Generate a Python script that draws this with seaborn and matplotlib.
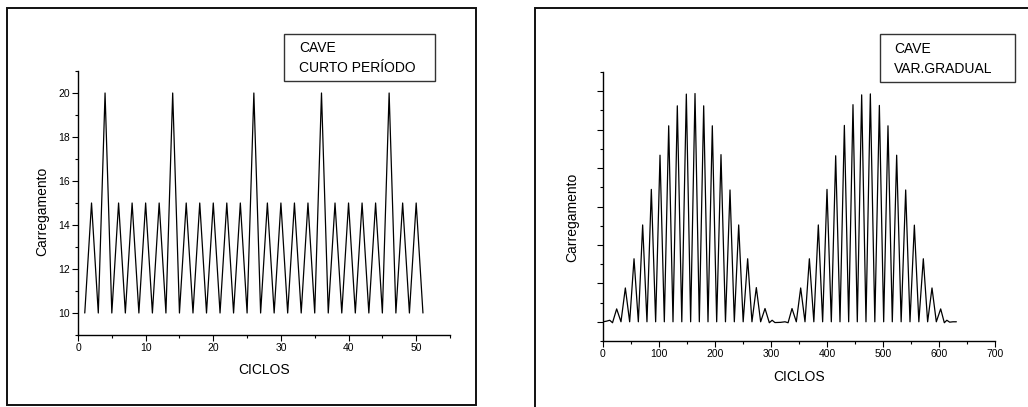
import matplotlib
matplotlib.use("Agg")
import matplotlib.pyplot as plt
from matplotlib.patches import Rectangle
from matplotlib.ticker import MultipleLocator, NullFormatter
import seaborn as sns

# ---- Data -------------------------------------------------------------
# Short-period block loading: load level per cycle
short_cycles = list(range(1, 52))
short_loads = [10, 15, 10, 20, 10, 15, 10, 15, 10, 15, 10, 15, 10, 20, 10,
               15, 10, 15, 10, 15, 10, 15, 10, 15, 10, 20, 10, 15, 10, 15,
               10, 15, 10, 15, 10, 20, 10, 15, 10, 15, 10, 15, 10, 15, 10,
               20, 10, 15, 10, 15, 10]

# Gradual-variation loading: turning points (peaks and valleys) per cycle
gradual_cycles = [0, 6, 12, 17, 24.4, 32.1, 39.9, 47.6, 55.4, 63.1, 70.8,
                  78.5, 86.3, 94.0, 101.8, 109.5, 117.3, 125.0, 132.7, 140.7,
                  148.8, 156.5, 164.3, 172.0, 179.8, 187.5, 195.2, 203.0,
                  210.7, 218.7, 226.8, 234.5, 242.3, 250.3, 258.3, 266.0,
                  273.8, 281.5, 289.3, 297.0, 302.0, 307.0, 317.0, 325.0,
                  330.5, 337.5, 345.2, 353.0, 360.7, 368.5, 376.5, 384.5,
                  392.2, 400.0, 407.7, 415.5, 423.2, 431.0, 438.7, 446.4,
                  454.1, 461.9, 469.6, 477.4, 485.4, 493.5, 501.2, 508.9,
                  516.6, 524.4, 532.4, 540.5, 548.2, 556.0, 564.0, 572.0,
                  579.7, 587.5, 595.2, 603.0, 609.5, 614.0, 619.0, 625.0,
                  631.0]
gradual_loads = [0.0, 0.03, 0.08, -0.05, 0.67, 0.0, 1.76, 0.0, 3.28, 0.0,
                 5.04, 0.0, 6.89, 0.0, 8.67, 0.0, 10.2, 0.0, 11.24, 0.0,
                 11.85, 0.0, 11.88, 0.0, 11.24, 0.0, 10.2, 0.0, 8.7, 0.0,
                 6.86, 0.0, 5.04, 0.0, 3.28, 0.0, 1.78, 0.0, 0.69, -0.05,
                 0.08, -0.04, -0.03, 0.0, -0.05, 0.69, 0.0, 1.76, 0.0, 3.28,
                 0.0, 5.04, 0.0, 6.89, 0.0, 8.64, 0.0, 10.22, 0.0, 11.3, 0.0,
                 11.81, 0.0, 11.86, 0.0, 11.26, 0.0, 10.2, 0.0, 8.67, 0.0,
                 6.86, 0.0, 5.03, 0.0, 3.28, 0.0, 1.76, 0.0, 0.67, -0.05,
                 0.08, -0.02, 0.0, 0.0]

left_legend = ["CAVE", "CURTO PERÍODO"]
right_legend = ["CAVE", "VAR.GRADUAL"]
x_label = "CICLOS"
y_label = "Carregamento"

# ---- Style ------------------------------------------------------------
sns.set_theme(style="ticks")
plt.rcParams["font.family"] = ["Liberation Sans", "DejaVu Sans"]
plt.rcParams["axes.edgecolor"] = "black"
plt.rcParams["xtick.color"] = "black"
plt.rcParams["ytick.color"] = "black"
plt.rcParams["text.color"] = "black"
plt.rcParams["axes.labelcolor"] = "black"

W, H = 1028, 407
fig = plt.figure(figsize=(W / 100, H / 100), dpi=100)
fig.patch.set_facecolor("white")


def rect(l, t, r, b):
    return [l / W, 1 - b / H, (r - l) / W, (b - t) / H]


def frame(l, t, r, b, lw, color):
    fig.add_artist(Rectangle((l / W, 1 - b / H), (r - l) / W, (b - t) / H,
                             transform=fig.transFigure, fill=False,
                             lw=lw, edgecolor=color))


def style_axes(ax):
    sns.despine(ax=ax)
    for side in ("left", "bottom"):
        ax.spines[side].set_linewidth(1.0)
        ax.spines[side].set_color("black")
    ax.tick_params(which="major", direction="out", length=4, width=0.8,
                   labelsize=7.5, pad=2)
    ax.tick_params(which="minor", direction="out", length=2.2, width=0.8)
    ax.set_facecolor("white")


# Outer panel frames
frame(7, 8, 476, 405, 1.4, "#111111")
frame(535, 8, 1032, 410, 1.4, "#111111")

# ---- Left panel: short period ----------------------------------------
axL = fig.add_axes(rect(78, 71, 450, 335))
sns.lineplot(x=short_cycles, y=short_loads, ax=axL, color="black",
             lw=0.9, sort=False, estimator=None)
axL.set_xlim(0, 55)
axL.set_ylim(9, 21)
axL.xaxis.set_major_locator(MultipleLocator(10))
axL.xaxis.set_minor_locator(MultipleLocator(5))
axL.yaxis.set_major_locator(MultipleLocator(2))
axL.yaxis.set_minor_locator(MultipleLocator(1))
style_axes(axL)
axL.set_xlabel(x_label, fontsize=10)
axL.set_ylabel(y_label, fontsize=10)
axL.xaxis.label.set_va("center")
axL.yaxis.label.set_va("center")
axL.xaxis.set_label_coords(0.5, (335 - 370) / (335 - 71))
axL.yaxis.set_label_coords((42 - 78) / (450 - 78), (335 - 211) / (335 - 71))

frame(284, 34, 435, 81, 1.0, "#333333")
fig.text(299 / W, 1 - 48 / H, left_legend[0], fontsize=10, va="center")
fig.text(299 / W, 1 - 68 / H, left_legend[1], fontsize=10, va="center")

# ---- Right panel: gradual variation ----------------------------------
axR = fig.add_axes(rect(603, 72, 995, 341))
sns.lineplot(x=gradual_cycles, y=gradual_loads, ax=axR, color="black",
             lw=0.9, sort=False, estimator=None)
axR.set_xlim(0, 700)
axR.set_ylim(-1, 13)
axR.xaxis.set_major_locator(MultipleLocator(100))
axR.xaxis.set_minor_locator(MultipleLocator(50))
axR.yaxis.set_major_locator(MultipleLocator(2))
axR.yaxis.set_minor_locator(MultipleLocator(1))
axR.yaxis.set_major_formatter(NullFormatter())
style_axes(axR)
axR.set_xlabel(x_label, fontsize=10)
axR.set_ylabel(y_label, fontsize=10)
axR.xaxis.label.set_va("center")
axR.yaxis.label.set_va("center")
axR.xaxis.set_label_coords(0.5, (341 - 377) / (341 - 72))
axR.yaxis.set_label_coords((572 - 603) / (995 - 603), (341 - 217) / (341 - 72))

frame(880, 34, 1015, 82, 1.0, "#333333")
fig.text(894 / W, 1 - 49 / H, right_legend[0], fontsize=10, va="center")
fig.text(894 / W, 1 - 69 / H, right_legend[1], fontsize=10, va="center")

fig.savefig("out.png", dpi=100, facecolor="white")
